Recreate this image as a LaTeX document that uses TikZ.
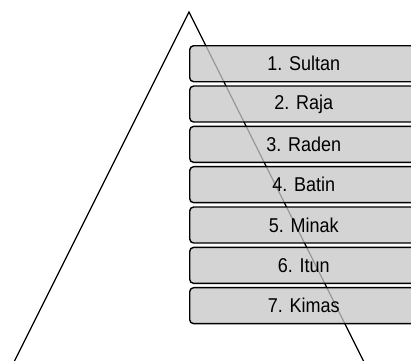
\documentclass[tikz,border=0pt]{standalone}
\usepackage{fontspec}
\setmainfont{Liberation Sans}[FakeStretch=0.9]
\begin{document}
\begin{tikzpicture}[x=1pt,y=-1pt,
  tierbox/.style={draw=black, line width=1.4pt, rounded corners=4pt,
    fill=black!22, fill opacity=0.77, text opacity=1,
    minimum width=228pt, minimum height=36pt, inner sep=0pt,
    anchor=north west, font=\fontsize{20}{22}\selectfont, text=black},
  tri/.style={draw=black, line width=1.3pt, line join=miter}]
\useasboundingbox (0,0) rectangle (411,360);
\clip (0,0) rectangle (411,360);
\coordinate (apex) at (189,12);
\coordinate (bl) at (12,366);
\coordinate (br) at (366,366);
\draw[tri] (bl) -- (apex) -- (br);
\foreach \i/\t in {0/1. Sultan,1/2. Raja,2/3. Raden,3/4. Batin,4/5. Minak,5/6. Itun,6/7. Kimas}{
  \node[tierbox] (b\i) at (189,{45+40.33*\i}) {\t};
}
\end{tikzpicture}
\end{document}
